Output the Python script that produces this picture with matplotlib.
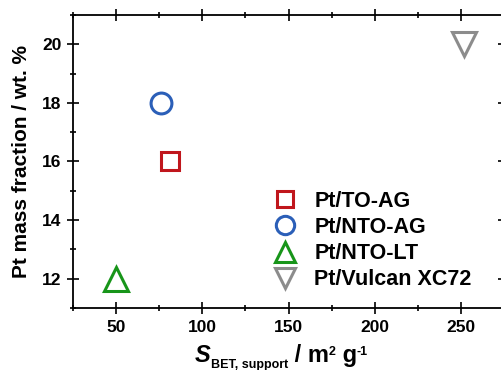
import matplotlib
matplotlib.use("Agg")
import matplotlib.pyplot as plt
from matplotlib.ticker import MultipleLocator

# data
labels = ["Pt/TO-AG", "Pt/NTO-AG", "Pt/NTO-LT", "Pt/Vulcan XC72"]
s_bet = [81, 76, 50, 251.5]
pt_frac = [16, 18, 12, 20]
markers = ["s", "o", "^", "v"]
colors = ["#c0161c", "#2b5fb8", "#18951a", "#8c8c8c"]
sizes = [13, 15, 17, 17]

plt.rcParams["font.family"] = "Liberation Sans"
plt.rcParams["font.weight"] = "bold"
plt.rcParams["axes.labelweight"] = "bold"

fig = plt.figure(figsize=(5.01, 3.70), dpi=100)
ax = fig.add_axes([0.146, 0.1676, 0.86, 0.7919])

for x, y, m, c, s, lab in zip(s_bet, pt_frac, markers, colors, sizes, labels):
    ax.plot([x], [y], linestyle="none", marker=m, markersize=s,
            markerfacecolor="none", markeredgecolor=c, markeredgewidth=2.2,
            label=lab)

ax.set_xlim(25, 275)
ax.set_ylim(11, 21)
ax.xaxis.set_major_locator(MultipleLocator(50))
ax.xaxis.set_minor_locator(MultipleLocator(25))
ax.yaxis.set_major_locator(MultipleLocator(2))
ax.yaxis.set_minor_locator(MultipleLocator(1))
ax.tick_params(which="both", direction="inout", top=True, right=True,
               labelsize=12.5, width=1.2, pad=4)
ax.tick_params(which="major", length=9)
ax.tick_params(which="minor", length=5)
for sp in ax.spines.values():
    sp.set_linewidth(1.3)

ax.set_ylabel("Pt mass fraction / wt. %", fontsize=15)
ax.yaxis.set_label_coords(-0.097, 0.5)

# x label built from pieces: big S, small subscript, units with small superscripts
big, small = 17, 9
t1 = fig.text(0.389, 0.0216, "S", fontsize=big, style="italic", weight="bold",
              ha="left", va="baseline")
t2 = ax.annotate("BET, support", xy=(1, 0.1), xycoords=t1, fontsize=small,
                 weight="bold", ha="left", va="center", annotation_clip=False)
t3 = ax.annotate(" / m", xy=(1, 0), xycoords=(t2, t1), fontsize=big,
                 weight="bold", ha="left", va="bottom", annotation_clip=False)
t4 = ax.annotate("2", xy=(1, 0.92), xycoords=t3, fontsize=small,
                 weight="bold", ha="left", va="top", annotation_clip=False)
t5 = ax.annotate(" g", xy=(1, 0), xycoords=(t4, t3), fontsize=big,
                 weight="bold", ha="left", va="bottom", annotation_clip=False)
t6 = ax.annotate("-1", xy=(1, 0.92), xycoords=t5, fontsize=small,
                 weight="bold", ha="left", va="top", annotation_clip=False)

leg = ax.legend(loc="lower left", bbox_to_anchor=(0.462, 0.061), frameon=False,
                fontsize=15.5, handletextpad=0.75, labelspacing=0.235,
                borderpad=0, borderaxespad=0, markerscale=0.88, handlelength=1.2)

fig.savefig("out.png", dpi=100)
